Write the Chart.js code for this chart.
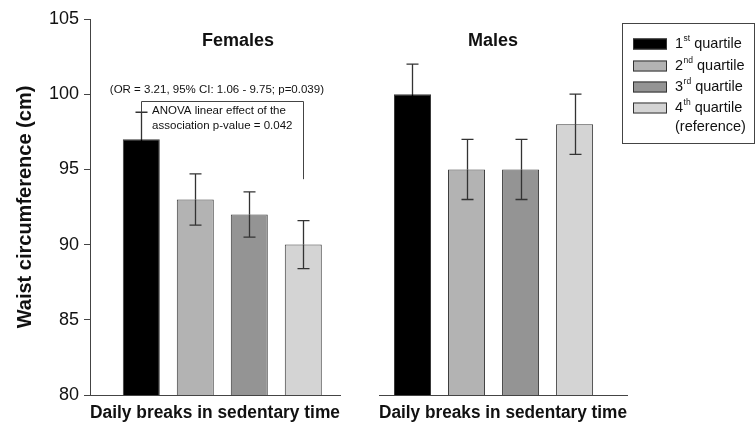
<!DOCTYPE html>
<html>
<head>
<meta charset="utf-8">
<script src="https://cdn.jsdelivr.net/npm/chart.js@4.4.0/dist/chart.umd.min.js"></script>
<style>
    html, body { margin: 0; padding: 0; background: #fff; }
    #wrap { position: relative; width: 755px; height: 425px; overflow: hidden; }
    canvas { position: absolute; top: 0; }
    #femalesChart { left: 0; }
    #malesChart { left: 350px; }
</style>
</head>
<body>
<div id="wrap">
    <canvas id="femalesChart" width="350" height="425"></canvas>
    <canvas id="malesChart" width="405" height="425"></canvas>
</div>
<script>
// quartile positions on the x axis (1st..4th)
const quartilePos = [1, 2, 3, 4];
const legendNums = ["1", "2", "3", "4"];
const legendSups = ["st", "nd", "rd", "th"];

const femaleMeans = [97, 93, 92, 90];
const femaleErrors = [1.8, 1.7, 1.5, 1.6];
const maleMeans = [100, 95, 95, 98];
const maleErrors = [2, 2, 2, 2];

const yTicks = [80, 85, 90, 95, 100, 105];

const barColors = ["#000000", "#b3b3b3", "#949494", "#d4d4d4"];
const FONT = 'Arial, "Liberation Sans", sans-serif';
const INK = "#111";
const LINE = "#444";

Chart.defaults.font.family = FONT;
Chart.defaults.color = INK;

const errorBars = {
    id: "errorBars",
    afterDatasetsDraw(chart, args, opts) {
        const { ctx } = chart;
        const y = chart.scales.y;
        const meta = chart.getDatasetMeta(0);
        ctx.save();
        ctx.lineWidth = 1.3;
        meta.data.forEach((bar, i) => {
            const cx = Math.round(bar.x) + 0.5;
            const mid = y.getPixelForValue(opts.means[i]);
            const top = y.getPixelForValue(opts.means[i] + opts.errors[i]);
            const bottom = y.getPixelForValue(opts.means[i] - opts.errors[i]);
            ctx.strokeStyle = "#333";
            ctx.beginPath();
            ctx.moveTo(cx, mid);
            ctx.lineTo(cx, top);
            ctx.moveTo(cx - 6, top);
            ctx.lineTo(cx + 6, top);
            ctx.stroke();
            // lower whisker disappears inside the black bar
            ctx.strokeStyle = barColors[i] === "#000000" ? "#000000" : "#333";
            ctx.beginPath();
            ctx.moveTo(cx, mid);
            ctx.lineTo(cx, bottom);
            ctx.moveTo(cx - 6, bottom);
            ctx.lineTo(cx + 6, bottom);
            ctx.stroke();
        });
        ctx.restore();
    },
};

const panelTitle = {
    id: "panelTitle",
    afterDraw(chart, args, opts) {
        const { ctx, scales: { x, y } } = chart;
        ctx.save();
        ctx.font = `bold 18px ${FONT}`;
        ctx.fillStyle = INK;
        ctx.textAlign = "center";
        ctx.textBaseline = "middle";
        ctx.fillText(opts.text, x.getPixelForValue(opts.at), y.getPixelForValue(103.53));
        ctx.restore();
    },
};

// bracket + OR / ANOVA text over the females panel
const orAnnotation = {
    id: "orAnnotation",
    afterDraw(chart) {
        if (chart.canvas.id !== "femalesChart") return;
        const { ctx, scales: { x, y } } = chart;
        const left = Math.round(x.getPixelForValue(1)) + 0.5;
        const right = Math.round(x.getPixelForValue(4)) + 0.5;
        const top = Math.round(y.getPixelForValue(99.55)) + 0.5;

        ctx.save();
        ctx.strokeStyle = LINE;
        ctx.lineWidth = 1;
        ctx.beginPath();
        ctx.moveTo(left, y.getPixelForValue(98.8));
        ctx.lineTo(left, top);
        ctx.lineTo(right, top);
        ctx.lineTo(right, y.getPixelForValue(94.35));
        ctx.stroke();

        ctx.fillStyle = INK;
        ctx.font = `11.5px ${FONT}`;
        ctx.textBaseline = "middle";
        ctx.textAlign = "center";
        ctx.fillText("(OR = 3.21, 95% CI: 1.06 - 9.75; p=0.039)", x.getPixelForValue(2.4), y.getPixelForValue(100.27));
        ctx.textAlign = "left";
        ctx.fillText("ANOVA linear effect of the", x.getPixelForValue(1.2), y.getPixelForValue(98.87));
        ctx.fillText("association p-value = 0.042", x.getPixelForValue(1.2), y.getPixelForValue(97.87));
        ctx.restore();
    },
};

// boxed legend with superscript ordinals, drawn on the males canvas
const quartileLegend = {
    id: "quartileLegend",
    afterDraw(chart) {
        if (chart.canvas.id !== "malesChart") return;
        const { ctx } = chart;
        const rows = [44, 66, 87, 108];
        ctx.save();
        ctx.strokeStyle = LINE;
        ctx.lineWidth = 1;
        ctx.strokeRect(272.5, 23.5, 132, 120);

        ctx.textBaseline = "middle";
        ctx.textAlign = "left";
        legendNums.forEach((num, i) => {
            const cy = rows[i];
            ctx.fillStyle = barColors[i];
            ctx.fillRect(283, cy - 5.5, 34, 11);
            ctx.strokeStyle = "#333";
            ctx.strokeRect(283.5, cy - 5, 33, 10);

            let tx = 325;
            ctx.fillStyle = INK;
            ctx.font = `14.5px ${FONT}`;
            ctx.fillText(num, tx, cy);
            tx += ctx.measureText(num).width + 0.5;
            ctx.font = `8.5px ${FONT}`;
            ctx.fillText(legendSups[i], tx, cy - 5);
            tx += ctx.measureText(legendSups[i]).width;
            ctx.font = `14.5px ${FONT}`;
            ctx.fillText(" quartile", tx, cy);
        });
        ctx.fillText("(reference)", 325, 127);
        ctx.restore();
    },
};

function makeChart(canvasId, means, errors, opts) {
    return new Chart(document.getElementById(canvasId), {
        type: "bar",
        data: {
            datasets: [{
                data: quartilePos.map((q, i) => ({ x: q, y: means[i] })),
                backgroundColor: barColors,
                borderColor: "#3a3a3a",
                borderWidth: 1,
                borderSkipped: "bottom",
                categoryPercentage: 1,
                barPercentage: 0.685,
            }],
        },
        plugins: [errorBars, panelTitle, orAnnotation, quartileLegend],
        options: {
            responsive: false,
            animation: false,
            layout: { padding: opts.padding },
            plugins: {
                legend: { display: false },
                tooltip: { enabled: false },
                errorBars: { means, errors },
                panelTitle: { text: opts.title, at: opts.titleAt },
            },
            scales: {
                x: {
                    type: "linear",
                    min: opts.xMin,
                    max: opts.xMax,
                    offset: false,
                    afterBuildTicks(scale) {
                        scale.ticks = quartilePos.map(v => ({ value: v }));
                    },
                    ticks: { display: false },
                    grid: { display: false },
                    border: { display: true, color: LINE, width: 1 },
                    title: {
                        display: true,
                        text: "Daily breaks in sedentary time",
                        font: { size: 18, weight: "bold" },
                        padding: { top: 0, bottom: 1 },
                    },
                    afterFit(scale) { scale.height = 30; },
                },
                y: {
                    display: opts.showY,
                    min: yTicks[0],
                    max: yTicks[yTicks.length - 1],
                    ticks: { stepSize: 5, font: { size: 18 }, padding: 5, color: INK },
                    grid: { drawOnChartArea: false, tickLength: 6, color: LINE },
                    border: { display: true, color: LINE, width: 1 },
                    title: {
                        display: true,
                        text: "Waist circumference (cm)",
                        font: { size: 20, weight: "bold" },
                        padding: { top: 13, bottom: 0 },
                    },
                    afterFit(scale) {
                        if (opts.showY) scale.width = 90;
                    },
                },
            },
        },
    });
}

makeChart("femalesChart", femaleMeans, femaleErrors, {
    padding: { left: 0, right: 10, top: 19, bottom: 0 },
    xMin: 0.05,
    xMax: 4.68,
    showY: true,
    title: "Females",
    titleAt: 2.79,
});

makeChart("malesChart", maleMeans, maleErrors, {
    padding: { left: 29, right: 128, top: 19, bottom: 0 },
    xMin: 0.38,
    xMax: 4.97,
    showY: false,
    title: "Males",
    titleAt: 2.49,
});
</script>
</body>
</html>
